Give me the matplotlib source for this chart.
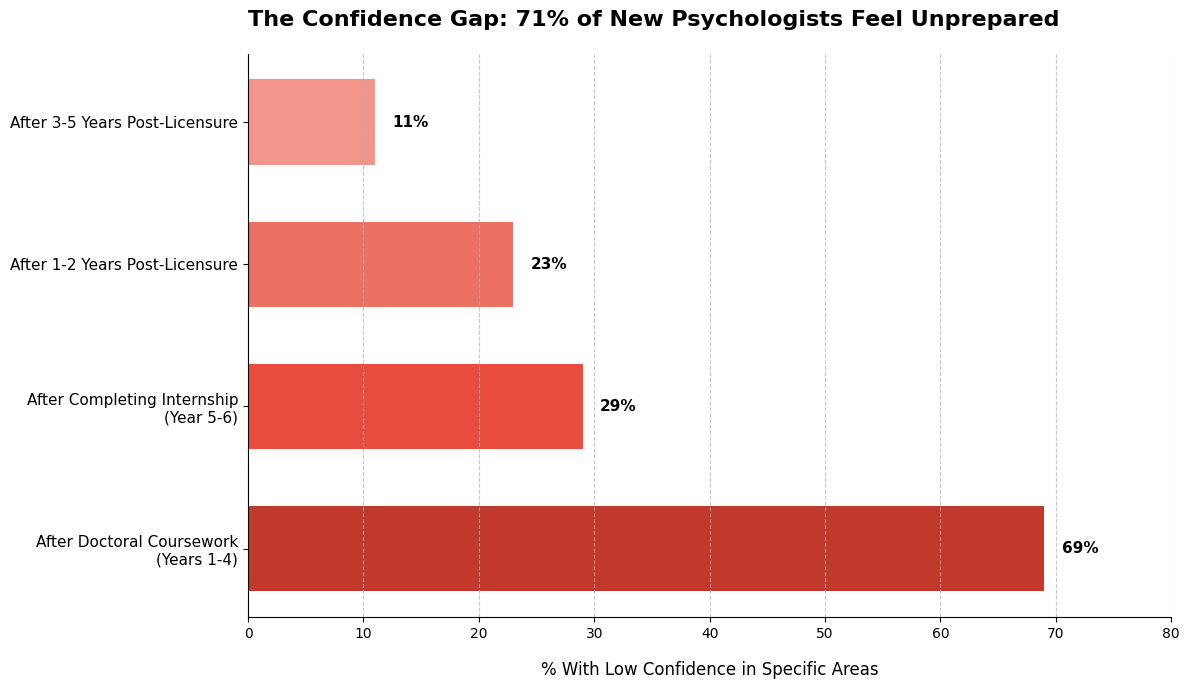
import matplotlib
matplotlib.use("Agg")
import matplotlib.pyplot as plt

categories = ["After Doctoral Coursework\n(Years 1-4)",
              "After Completing Internship\n(Year 5-6)",
              "After 1-2 Years Post-Licensure",
              "After 3-5 Years Post-Licensure"]
values = [69, 29, 23, 11]
colors = ["#c0392b", "#e74c3c", "#ec7063", "#f1948a"]

fig, ax = plt.subplots(figsize=(11.89, 6.9), dpi=100)
fig.subplots_adjust(left=0.2086, right=0.985, top=0.922, bottom=0.106)
y = range(len(categories))
ax.barh(list(y), values, height=0.6, color=colors, zorder=1)
for yi, v in zip(y, values):
    ax.text(v + 1.5, yi, f"{v}%", va="center", ha="left", fontsize=11, fontweight="bold")
ax.set_yticks(list(y))
ax.set_yticklabels(categories, fontsize=11)
ax.set_xlim(0, 80)
ax.set_xlabel("% With Low Confidence in Specific Areas", fontsize=12, labelpad=15)
ax.set_title("The Confidence Gap: 71% of New Psychologists Feel Unprepared",
             fontsize=16, fontweight="bold", pad=20, loc="left")
ax.xaxis.grid(True, linestyle="--", alpha=0.7, color="#b0b0b0")
ax.set_axisbelow(False)
ax.spines["top"].set_visible(False)
ax.spines["right"].set_visible(False)
for s in ("left", "bottom"):
    ax.spines[s].set_zorder(5)
fig.savefig("out.png", dpi=100)
